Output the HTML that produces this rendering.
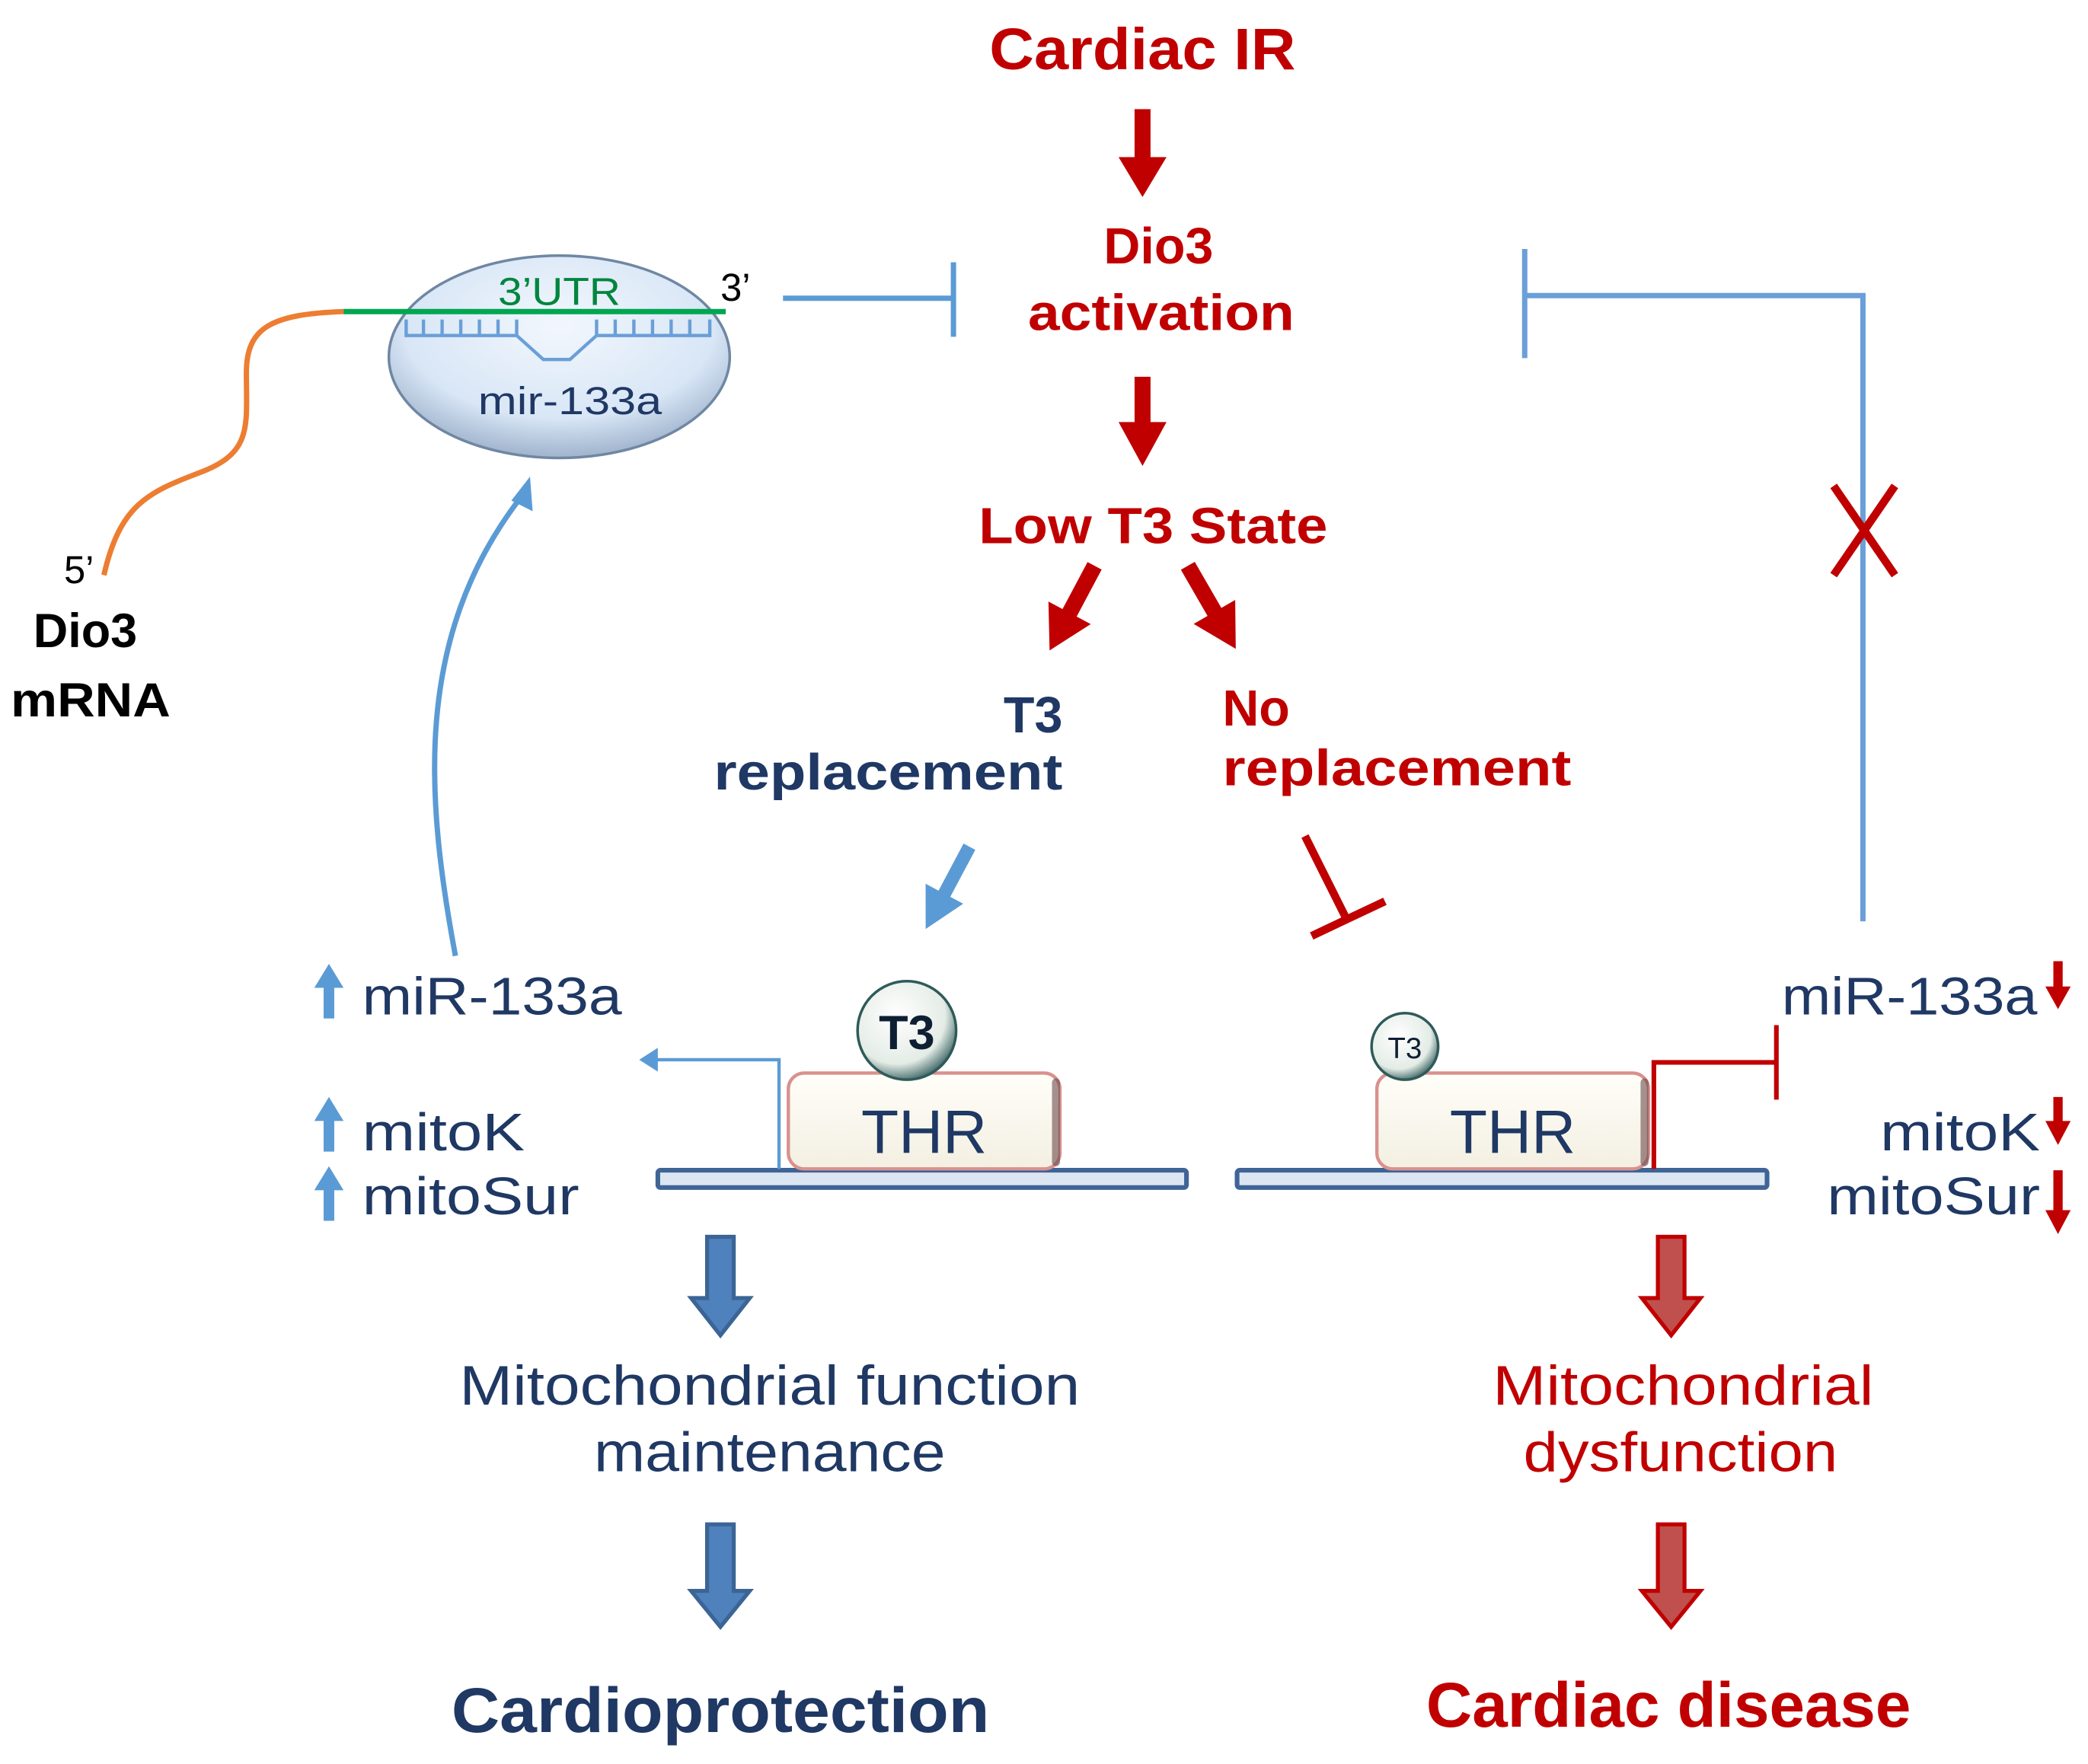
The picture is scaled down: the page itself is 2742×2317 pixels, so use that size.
<!DOCTYPE html>
<html><head><meta charset="utf-8"><style>
html,body{margin:0;padding:0;background:#fff;}
svg{display:block;}
text{font-family:"Liberation Sans",sans-serif;}
.b{font-weight:bold;}
</style></head><body>
<svg width="2742" height="2317" viewBox="0 0 1568 1325" xmlns="http://www.w3.org/2000/svg">
<defs>
<radialGradient id="eg" cx="50%" cy="35%" r="65%"><stop offset="0" stop-color="#f2f7fd"/><stop offset="0.7" stop-color="#d8e6f6"/><stop offset="1" stop-color="#9fb3cc"/></radialGradient>
<radialGradient id="tg" cx="40%" cy="35%" r="70%"><stop offset="0" stop-color="#ffffff"/><stop offset="0.7" stop-color="#e4ece6"/><stop offset="1" stop-color="#2f5a5a"/></radialGradient>
<linearGradient id="thr" x1="0" y1="0" x2="0" y2="1"><stop offset="0" stop-color="#fffef8"/><stop offset="1" stop-color="#f3efe2"/></linearGradient>
</defs>

<!-- Center flow -->
<text x="858" y="52" text-anchor="middle" class="b" font-size="44" fill="#c00000" textLength="230" lengthAdjust="spacingAndGlyphs">Cardiac IR</text>
<polygon points="852,82 864,82 864,118 876,118 858,148 840,118 852,118" fill="#c00000"/>
<text x="870" y="198" text-anchor="middle" class="b" font-size="38" fill="#c00000">Dio3</text>
<text x="872" y="248" text-anchor="middle" class="b" font-size="38" fill="#c00000" textLength="200" lengthAdjust="spacingAndGlyphs">activation</text>
<polygon points="852,283 864,283 864,317 876,317 858,350 840,317 852,317" fill="#c00000"/>
<text x="866" y="408" text-anchor="middle" class="b" font-size="38" fill="#c00000" textLength="262" lengthAdjust="spacingAndGlyphs">Low T3 State</text>
<!-- diagonal arrows -->
<g transform="translate(822,425) rotate(28)"><polygon points="-6,0 6,0 6,40 18,40 0,72 -18,40 -6,40" fill="#c00000"/></g>
<g transform="translate(892,425) rotate(-30)"><polygon points="-6,0 6,0 6,40 18,40 0,72 -18,40 -6,40" fill="#c00000"/></g>

<text x="798" y="550" text-anchor="end" class="b" font-size="38" fill="#1f3864">T3</text>
<text x="798" y="593" text-anchor="end" class="b" font-size="38" fill="#1f3864" textLength="262" lengthAdjust="spacingAndGlyphs">replacement</text>
<text x="918" y="545" class="b" font-size="38" fill="#c00000">No</text>
<text x="918" y="590" class="b" font-size="38" fill="#c00000" textLength="262" lengthAdjust="spacingAndGlyphs">replacement</text>

<!-- blue arrow to THR -->
<g transform="translate(728,636) rotate(28)"><polygon points="-5,0 5,0 5,40 16,40 0,70 -16,40 -5,40" fill="#5b9bd5"/></g>
<!-- red inhibition -->
<line x1="980" y1="628" x2="1012" y2="692" stroke="#c00000" stroke-width="6"/>
<line x1="985" y1="703" x2="1040" y2="677" stroke="#c00000" stroke-width="6"/>

<!-- Left inhibitor from mRNA -->
<line x1="588" y1="224" x2="716" y2="224" stroke="#5b9bd5" stroke-width="4"/>
<line x1="716" y1="197" x2="716" y2="253" stroke="#5b9bd5" stroke-width="4"/>
<!-- Right feedback -->
<polyline points="1399,692 1399,222 1145,222" fill="none" stroke="#6a9fd8" stroke-width="4"/>
<line x1="1145" y1="187" x2="1145" y2="269" stroke="#6a9fd8" stroke-width="4"/>
<!-- red X -->
<line x1="1377" y1="365" x2="1423" y2="432" stroke="#c00000" stroke-width="6"/>
<line x1="1423" y1="365" x2="1377" y2="432" stroke="#c00000" stroke-width="6"/>

<!-- mRNA + ellipse -->
<ellipse cx="420" cy="268" rx="128" ry="76" fill="url(#eg)" stroke="#6f87a3" stroke-width="2"/>
<path d="M78,432 C90,380 110,370 150,355 C190,340 185,320 185,280 C185,245 205,236 258,234" fill="none" stroke="#ed7d31" stroke-width="4"/>
<line x1="258" y1="234" x2="545" y2="234" stroke="#00a651" stroke-width="4"/>
<path d="M305,240 V252 H388 L408,270 H428 L448,252 H533 V240" fill="none" stroke="#6a9fd8" stroke-width="2.5"/>
<g stroke="#6a9fd8" stroke-width="2.5">
<line x1="318" y1="240" x2="318" y2="252"/><line x1="332" y1="240" x2="332" y2="252"/><line x1="346" y1="240" x2="346" y2="252"/><line x1="360" y1="240" x2="360" y2="252"/><line x1="374" y1="240" x2="374" y2="252"/><line x1="388" y1="240" x2="388" y2="252"/>
<line x1="448" y1="240" x2="448" y2="252"/><line x1="462" y1="240" x2="462" y2="252"/><line x1="476" y1="240" x2="476" y2="252"/><line x1="490" y1="240" x2="490" y2="252"/><line x1="504" y1="240" x2="504" y2="252"/><line x1="518" y1="240" x2="518" y2="252"/>
</g>
<text x="420" y="229" text-anchor="middle" font-size="29" fill="#00863d" textLength="92" lengthAdjust="spacingAndGlyphs">3’UTR</text>
<text x="541" y="226" font-size="29" fill="#000">3’</text>
<text x="428" y="311" text-anchor="middle" font-size="29" fill="#1f3864" textLength="138" lengthAdjust="spacingAndGlyphs">mir-133a</text>
<text x="48" y="438" font-size="29" fill="#000">5’</text>
<text x="64" y="486" text-anchor="middle" class="b" font-size="36" fill="#000">Dio3</text>
<text x="68" y="538" text-anchor="middle" class="b" font-size="36" fill="#000" textLength="120" lengthAdjust="spacingAndGlyphs">mRNA</text>

<!-- curved blue arrow -->
<path d="M342,718 C320,600 310,480 390,375" fill="none" stroke="#5b9bd5" stroke-width="4"/>
<polygon points="398,358 400,384 384,376" fill="#5b9bd5"/>

<!-- left labels -->
<g fill="#5b9bd5">
<polygon points="243,765 251,765 251,742 258,742 247,724 236,742 243,742"/>
<polygon points="243,865 251,865 251,842 258,842 247,824 236,842 243,842"/>
<polygon points="243,917 251,917 251,894 258,894 247,876 236,894 243,894"/>
</g>
<text x="272" y="762" font-size="40" fill="#1f3864" textLength="195" lengthAdjust="spacingAndGlyphs">miR-133a</text>
<text x="272" y="864" font-size="40" fill="#1f3864" textLength="122" lengthAdjust="spacingAndGlyphs">mitoK</text>
<text x="272" y="912" font-size="40" fill="#1f3864" textLength="163" lengthAdjust="spacingAndGlyphs">mitoSur</text>

<!-- right labels -->
<text x="1530" y="762" text-anchor="end" font-size="40" fill="#1f3864" textLength="192" lengthAdjust="spacingAndGlyphs">miR-133a</text>
<text x="1532" y="864" text-anchor="end" font-size="40" fill="#1f3864" textLength="120" lengthAdjust="spacingAndGlyphs">mitoK</text>
<text x="1532" y="912" text-anchor="end" font-size="40" fill="#1f3864" textLength="160" lengthAdjust="spacingAndGlyphs">mitoSur</text>
<g fill="#c00000">
<polygon points="1542,722 1549,722 1549,741 1555,741 1545.5,758 1536,741 1542,741"/>
<polygon points="1542,824 1549,824 1549,842 1555,842 1545.5,860 1536,842 1542,842"/>
<polygon points="1542,879 1549,879 1549,909 1555,909 1545.5,927 1536,909 1542,909"/>
</g>

<!-- Left THR complex -->
<rect x="494" y="879" width="397" height="13" rx="2" fill="#dce6f2" stroke="#3f6496" stroke-width="3.5"/>
<polyline points="585,878 585,796 490,796" fill="none" stroke="#5b9bd5" stroke-width="2.5"/>
<polygon points="480,796 494,787 494,805" fill="#5b9bd5"/>
<rect x="592" y="806" width="204" height="72" rx="12" fill="url(#thr)" stroke="#d9918e" stroke-width="2.5"/>
<rect x="790" y="810" width="6" height="66" rx="3" fill="#6b4a4a" opacity="0.6"/>
<text x="694" y="866" text-anchor="middle" font-size="46" fill="#1f3864">THR</text>
<circle cx="681" cy="774" r="37" fill="url(#tg)" stroke="#2f5a5a" stroke-width="2"/>
<text x="681" y="788" text-anchor="middle" class="b" font-size="36" fill="#0f1f33">T3</text>

<!-- Right THR complex -->
<rect x="929" y="879" width="398" height="13" rx="2" fill="#dce6f2" stroke="#3f6496" stroke-width="3.5"/>
<rect x="1034" y="806" width="204" height="72" rx="12" fill="url(#thr)" stroke="#d9918e" stroke-width="2.5"/>
<rect x="1232" y="810" width="6" height="66" rx="3" fill="#6b4a4a" opacity="0.6"/>
<text x="1136" y="866" text-anchor="middle" font-size="46" fill="#1f3864">THR</text>
<circle cx="1055" cy="786" r="25" fill="url(#tg)" stroke="#2f5a5a" stroke-width="2"/>
<text x="1055" y="795" text-anchor="middle" font-size="22" fill="#0f1f33">T3</text>
<polyline points="1242,878 1242,798 1334,798" fill="none" stroke="#c00000" stroke-width="3.5"/>
<line x1="1334" y1="770" x2="1334" y2="826" stroke="#c00000" stroke-width="3.5"/>

<!-- block arrows -->
<g fill="#4f81bd" stroke="#3a6595" stroke-width="3">
<polygon points="531,929 551,929 551,975 563,975 541,1003 519,975 531,975"/>
<polygon points="531,1145 551,1145 551,1195 563,1195 541,1222 519,1195 531,1195"/>
</g>
<g fill="#c0504d" stroke="#c00000" stroke-width="3">
<polygon points="1245,929 1265,929 1265,975 1277,975 1255,1003 1233,975 1245,975"/>
<polygon points="1245,1145 1265,1145 1265,1195 1277,1195 1255,1222 1233,1195 1245,1195"/>
</g>

<!-- bottom text -->
<text x="578" y="1055" text-anchor="middle" font-size="42" fill="#1f3864" textLength="466" lengthAdjust="spacingAndGlyphs">Mitochondrial function</text>
<text x="578" y="1105" text-anchor="middle" font-size="42" fill="#1f3864" textLength="264" lengthAdjust="spacingAndGlyphs">maintenance</text>
<text x="1264" y="1055" text-anchor="middle" font-size="42" fill="#c00000" textLength="286" lengthAdjust="spacingAndGlyphs">Mitochondrial</text>
<text x="1262" y="1105" text-anchor="middle" font-size="42" fill="#c00000" textLength="236" lengthAdjust="spacingAndGlyphs">dysfunction</text>
<text x="541" y="1301" text-anchor="middle" class="b" font-size="48" fill="#1f3864" textLength="404" lengthAdjust="spacingAndGlyphs">Cardioprotection</text>
<text x="1253" y="1297" text-anchor="middle" class="b" font-size="48" fill="#c00000" textLength="364" lengthAdjust="spacingAndGlyphs">Cardiac disease</text>
</svg>
</body></html>
